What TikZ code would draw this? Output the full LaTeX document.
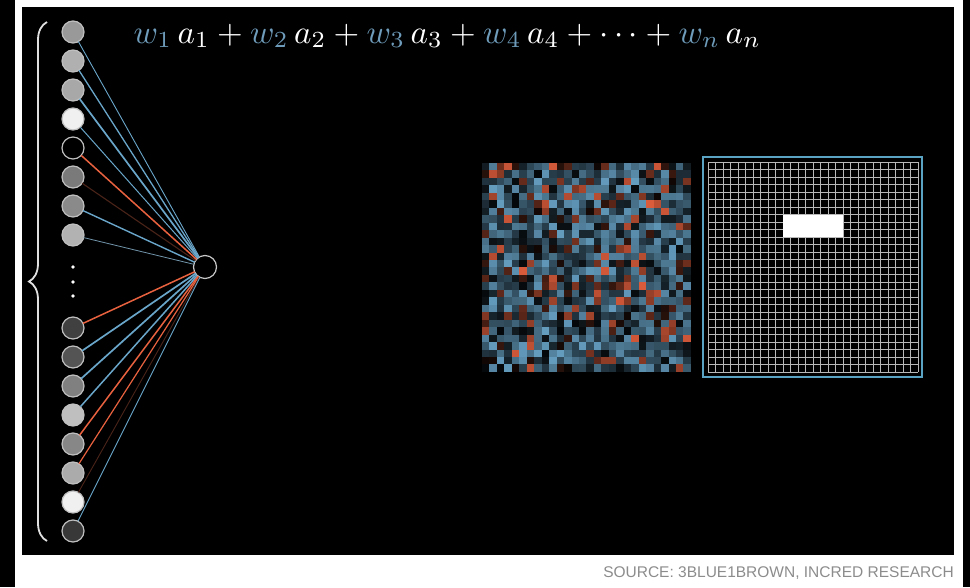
\documentclass[tikz,border=0pt]{standalone}
\usepackage{fontspec}
\newfontfamily\srcfont{Liberation Sans}
\usetikzlibrary{positioning,decorations.pathreplacing}
\usepackage{xcolor}
\definecolor{wblue}{HTML}{6AA6CA}
\definecolor{wred}{HTML}{E8623F}
\definecolor{wbrown}{HTML}{4A2418}
\definecolor{wtext}{HTML}{6E9CBA}
\definecolor{framebl}{HTML}{5AA3C3}
\newcommand{\wcol}[1]{\textcolor{wtext}{#1}}

\begin{document}
\begin{tikzpicture}[
    x=1pt, y=-1pt,
    node distance=7pt,
    neuron/.style={circle, draw=black!25, line width=1.2pt, minimum size=22pt,
                   inner sep=0pt, outer sep=0pt},
    outn/.style={neuron, fill=black, draw=black!22, minimum size=23pt},
    poswt/.style={wblue, line width=1.3pt},
    negwt/.style={wred, line width=1.3pt},
    faintwt/.style={wbrown, line width=1.1pt},
    gridln/.style={black!28, line width=0.6pt},
    brc/.style={decorate, decoration={brace, amplitude=18pt}, white!88!black, line width=1.8pt},
    eqn/.style={white, scale=3.3, transform shape, inner sep=0pt},
    src/.style={black!45, font=\srcfont\fontsize{15.5}{18}\selectfont, inner sep=0pt}
  ]
  \useasboundingbox (0,0) rectangle (970,587);

  % --- frame ---
  \fill[white] (0,0) rectangle (970,587);
  \fill[black] (0,0) rectangle (15,587);
  \fill[black] (963,0) rectangle (970,587);
  \fill[black] (22,7) rectangle (954,555);

  % --- input layer, upper block ---
  \node[neuron, fill=black!40] (t1) at (73,32) {};
  \node[neuron, fill=black!31, below=of t1] (t2) {};
  \node[neuron, fill=black!34, below=of t2] (t3) {};
  \node[neuron, fill=black!6, below=of t3] (t4) {};
  \node[neuron, fill=black, below=of t4] (t5) {};
  \node[neuron, fill=black!52, below=of t5] (t6) {};
  \node[neuron, fill=black!46, below=of t6] (t7) {};
  \node[neuron, fill=black!30, below=of t7] (t8) {};

  % --- input layer, lower block ---
  \node[neuron, fill=black!75] (b1) at (73,328) {};
  \node[neuron, fill=black!67, below=of b1] (b2) {};
  \node[neuron, fill=black!50, below=of b2] (b3) {};
  \node[neuron, fill=black!25, below=of b3] (b4) {};
  \node[neuron, fill=black!47, below=of b4] (b5) {};
  \node[neuron, fill=black!33, below=of b5] (b6) {};
  \node[neuron, fill=black!6, below=of b6] (b7) {};
  \node[neuron, fill=black!78, below=of b7] (b8) {};

  % vertical dots
  \fill[white] (73,267) circle (1.8) (73,282) circle (1.8) (73,296) circle (1.8);

  % --- output neuron ---
  \node[outn] (out) at (205,267) {};

  % weights
  \draw[poswt, line width=0.9pt] (t1) -- (out);
  \draw[poswt] (t2) -- (out);
  \draw[poswt, line width=1.7pt] (t3) -- (out);
  \draw[poswt, line width=1pt] (t4) -- (out);
  \draw[negwt, line width=1.5pt] (t5) -- (out);
  \draw[faintwt] (t6) -- (out);
  \draw[poswt, line width=1.4pt] (t7) -- (out);
  \draw[poswt, wblue!60!gray, line width=0.8pt] (t8) -- (out);
  \draw[negwt, line width=1.5pt] (b1) -- (out);
  \draw[poswt, line width=1.7pt] (b2) -- (out);
  \draw[poswt, line width=1.7pt] (b3) -- (out);
  \draw[poswt, line width=1.5pt] (b4) -- (out);
  \draw[negwt, line width=1.5pt] (b5) -- (out);
  \draw[negwt, line width=1.2pt] (b6) -- (out);
  \draw[faintwt, line width=0.9pt] (b7) -- (out);
  \draw[poswt, line width=0.9pt] (b8) -- (out);

  % brace round the inputs
  \draw[brc] (47,541) -- (47,22);

  % --- weighted sum ---
  \node[eqn, anchor=base west] (wsum) at (133,43)
    {$\wcol{w_1}\,a_1+\wcol{w_2}\,a_2+\wcol{w_3}\,a_3+\wcol{w_4}\,a_4+\cdots+\wcol{w_n}\,a_n$};

  % --- weight matrix ---
  \pgfmathsetseed{1729}
  \foreach \i in {0,...,27}{
    \foreach \j in {0,...,27}{
      \pgfmathsetmacro{\pick}{rnd}
      \pgfmathtruncatemacro{\lvl}{5+90*rnd}
      \ifdim\pick pt<0.2pt \def\hue{wred}\else\def\hue{wblue}\fi
      \fill[\hue!\lvl!black] (482+\j*7.46,163+\i*7.46) rectangle ++(7.6,7.6);
    }
  }

  % --- pixel grid with highlighted patch ---
  \foreach \k in {0,...,28}{
    \draw[gridln] (708+\k*7.5,162) -- (708+\k*7.5,372);
    \draw[gridln] (708,162+\k*7.5) -- (918,162+\k*7.5);
  }
  \fill[white] (783,215) rectangle (843,237);
  \draw[framebl, line width=2.4pt] (703,157) rectangle (922,377);

  % --- source line ---
  \node[src, anchor=base east] (source) at (954,577) {SOURCE: 3BLUE1BROWN, INCRED RESEARCH};
\end{tikzpicture}
\end{document}
